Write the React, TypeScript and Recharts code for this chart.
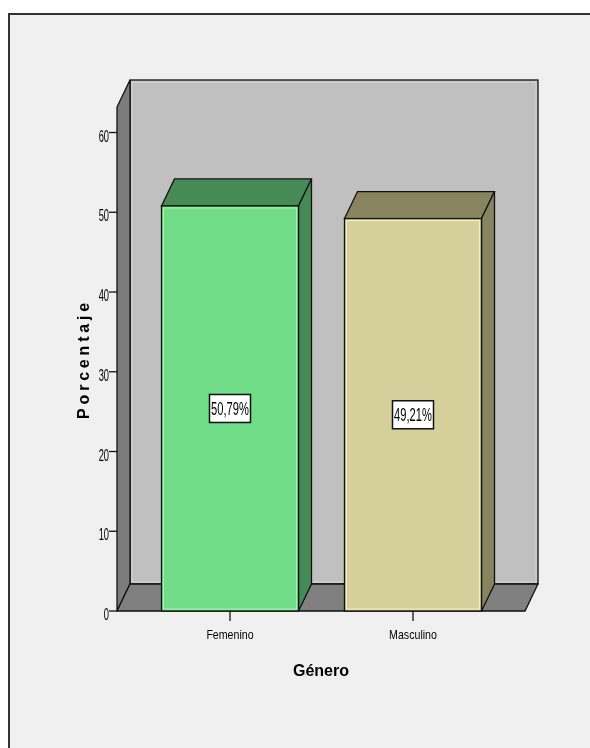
import { BarChart, Bar, XAxis, YAxis, LabelList } from 'recharts';

// Género vs Porcentaje (SPSS style 3D bars)
const categories = ['Femenino', 'Masculino'];
const percentages = [50.79, 49.21];
const valueLabels = ['50,79%', '49,21%'];
const yTicks = [0, 10, 20, 30, 40, 50, 60];

const FRONT_COLORS = ['#72dd89', '#d5d09b'];
const DARK_COLORS = ['#468a56', '#88845f'];
const EDGE_COLORS = ['#a6f2b6', '#f2eec2'];

const W = 574;
const H = 732;
const Y_AXIS_W = 60;
const X_AXIS_H = 80;
const MARGIN = { top: 99, right: 57, bottom: 49, left: 49 };
const DX = 13;
const DY = 27;
const FONT = "'Liberation Sans', Arial, sans-serif";

const data = categories.map((name, i) => ({ name, value: percentages[i], label: valueLabels[i] }));

function Walls() {
  const L = MARGIN.left + Y_AXIS_W;
  const T = MARGIN.top;
  const R = W - MARGIN.right;
  const B = H - MARGIN.bottom - X_AXIS_H;
  return (
    <svg width={W} height={H} style={{ position: 'absolute', left: 0, top: 0 }}>
      <rect x={L + DX} y={T - DY} width={R - L} height={B - T} fill="#c0c0c0" stroke="#111" strokeWidth={1.3} />
      <rect x={L + DX + 2} y={T - DY + 2} width={R - L - 4} height={B - T - 4} fill="none" stroke="#d6d6d6" strokeWidth={1} />
      <polygon
        points={`${L},${T} ${L + DX},${T - DY} ${L + DX},${B - DY} ${L},${B}`}
        fill="#7c7c7c"
        stroke="#111"
        strokeWidth={1.3}
      />
      <polygon
        points={`${L},${B} ${L + DX},${B - DY} ${R + DX},${B - DY} ${R},${B}`}
        fill="#808080"
        stroke="#111"
        strokeWidth={1.3}
      />
    </svg>
  );
}

function Bar3D(props: any) {
  const { x, y, width, height, index } = props;
  const front = FRONT_COLORS[index];
  const dark = DARK_COLORS[index];
  const r = x + width;
  const b = y + height;
  return (
    <g>
      <polygon
        points={`${x},${y} ${x + DX},${y - DY} ${r + DX},${y - DY} ${r},${y}`}
        fill={dark}
        stroke="#111"
        strokeWidth={1.3}
      />
      <polygon
        points={`${r},${y} ${r + DX},${y - DY} ${r + DX},${b - DY} ${r},${b}`}
        fill={dark}
        stroke="#111"
        strokeWidth={1.3}
      />
      <rect x={x} y={y} width={width} height={height} fill={front} stroke="#111" strokeWidth={1.3} />
      <rect
        x={x + 2}
        y={y + 2}
        width={width - 4}
        height={height - 4}
        fill="none"
        stroke={EDGE_COLORS[index]}
        strokeWidth={1}
      />
    </g>
  );
}

function ValueBox(props: any) {
  const { x, y, width, height, value } = props;
  const cx = x + width / 2;
  const cy = y + height / 2;
  const bw = 41;
  const bh = 28;
  return (
    <g>
      <rect x={cx - bw / 2} y={cy - bh / 2} width={bw} height={bh} fill="#fff" stroke="#111" strokeWidth={1.5} />
      <text
        transform={`translate(${cx},${cy + 6.5}) scale(0.62,1)`}
        textAnchor="middle"
        fontFamily={FONT}
        fontSize={18}
        fill="#000"
      >
        {value}
      </text>
    </g>
  );
}

function YTick(props: any) {
  const { x, y, payload } = props;
  return (
    <text
      transform={`translate(${x},${y + 9}) scale(0.58,1)`}
      textAnchor="end"
      fontFamily={FONT}
      fontSize={16}
      fill="#000"
    >
      {payload.value}
    </text>
  );
}

function XTick(props: any) {
  const { x, y, payload } = props;
  return (
    <text
      transform={`translate(${x},${y + 16}) scale(0.85,1)`}
      textAnchor="middle"
      fontFamily={FONT}
      fontSize={12.5}
      fill="#000"
    >
      {payload.value}
    </text>
  );
}

function YTitle(props: any) {
  const vb = props.viewBox;
  const cx = vb.x + 32;
  const cy = vb.y + vb.height / 2;
  return (
    <text
      transform={`translate(${cx},${cy}) rotate(-90)`}
      textAnchor="middle"
      fontFamily={FONT}
      fontWeight="bold"
      fontSize={16}
      letterSpacing={3.8}
      fill="#000"
    >
      Porcentaje
    </text>
  );
}

function XTitle(props: any) {
  const vb = props.viewBox;
  return (
    <text
      x={vb.x + vb.width / 2}
      y={vb.y + 65}
      textAnchor="middle"
      fontFamily={FONT}
      fontWeight="bold"
      fontSize={16}
      fill="#000"
    >
      Género
    </text>
  );
}

export default function App() {
  return (
    <div style={{ position: 'relative', width: W, height: H }}>
      <div
        style={{
          position: 'fixed',
          left: 8,
          top: 13,
          right: -10,
          bottom: -10,
          background: '#f0f0f0',
          borderTop: '2px solid #333',
          borderLeft: '2px solid #333',
        }}
      />
      <Walls />
      <div style={{ position: 'absolute', left: 0, top: 0 }}>
        <BarChart width={W} height={H} data={data} margin={MARGIN}>
          <XAxis
            dataKey="name"
            height={X_AXIS_H}
            axisLine={false}
            tickLine={{ stroke: '#111', strokeWidth: 1.3 }}
            tickSize={10}
            padding={{ left: 21.5, right: 20.5 }}
            tick={<XTick />}
            interval={0}
            label={<XTitle />}
          />
          <YAxis
            width={Y_AXIS_W}
            domain={[0, 63.2]}
            ticks={yTicks}
            axisLine={false}
            tickLine={{ stroke: '#111', strokeWidth: 1.3 }}
            tickSize={8}
            tickMargin={0}
            tick={<YTick />}
            label={<YTitle />}
          />
          <Bar dataKey="value" barSize={137} isAnimationActive={false} shape={<Bar3D />}>
            <LabelList dataKey="label" content={<ValueBox />} />
          </Bar>
        </BarChart>
      </div>
    </div>
  );
}
